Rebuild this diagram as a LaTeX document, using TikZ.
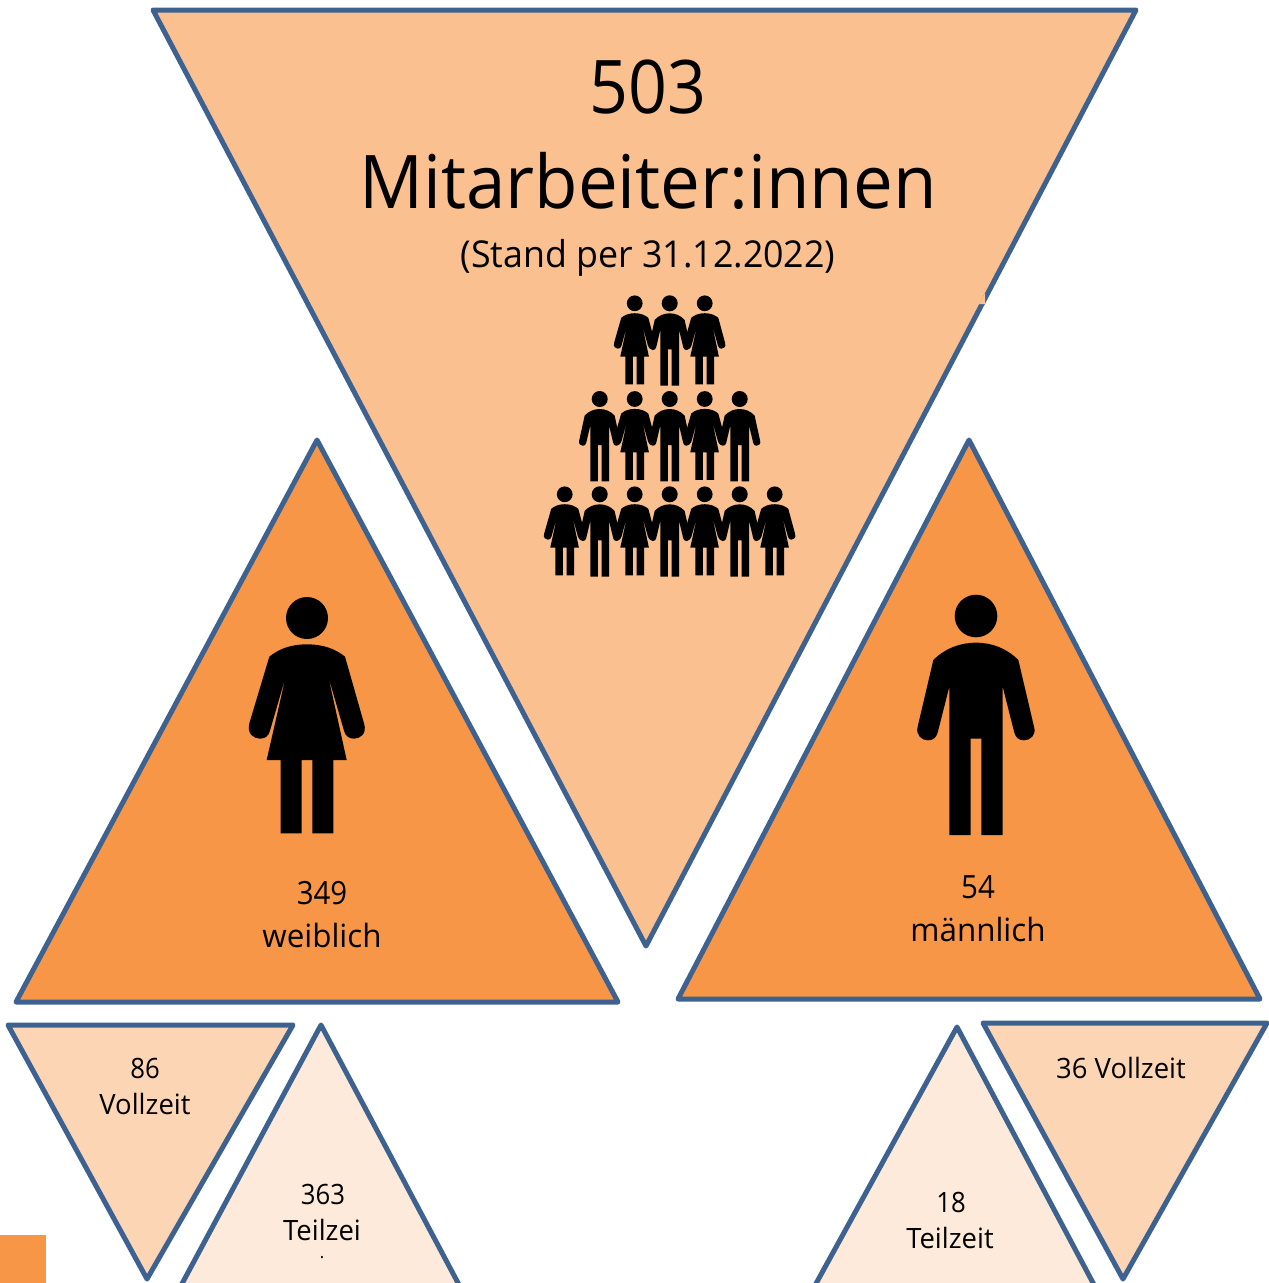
\documentclass[tikz,border=0pt]{standalone}
\usepackage{fontspec}
\setmainfont{Open Sans}[FakeStretch=0.92]
\newfontfamily\txtfont{Open Sans}[FakeStretch=0.98]
\newfontfamily\bigfont{Open Sans}[FakeStretch=0.958]
\newfontfamily\standfont{Open Sans}[FakeStretch=0.966]
\tikzset{
  x=1pt,y=-1pt,
  tri/.style={draw=edgeblue,line width=5pt,line join=round},
  lab/.style={anchor=base,inner sep=0pt,text=black},
}
\definecolor{edgeblue}{HTML}{3D6290}
\definecolor{fillA}{HTML}{FAC090}
\definecolor{fillB}{HTML}{F79646}
\definecolor{fillC}{HTML}{FCD5B5}
\definecolor{fillD}{HTML}{FDEADA}
% x, y of head centre, body x scale, y scale
\newcommand{\womanfig}[4]{%
\fill[black] (#1,#2) circle[radius=21*#4];
\begin{scope}[shift={(#1,#2)},xscale=#3/3,yscale=#4/3,shift={(-231,-114)}]
\fill[black] (231,193) .. controls (180,193) and (145,208) .. (118,230)
 -- (58,430) .. controls (50,462) and (72,476) .. (90,476) .. controls (105,476) and (116,468) .. (120,452)
 -- (167,290) -- (110,540) -- (152,540) -- (152,760) -- (215,760) -- (215,540) -- (247,540) -- (247,760) -- (310,760) -- (310,540) -- (350,540)
 -- (295,290) -- (342,452) .. controls (346,468) and (357,476) .. (372,476) .. controls (390,476) and (412,462) .. (402,430)
 -- (345,230) .. controls (318,208) and (282,193) .. (231,193) -- cycle;
\end{scope}}
\newcommand{\manfig}[4]{%
\fill[black] (#1,#2) circle[radius=21.3*#4];
\begin{scope}[shift={(#1,#2)},xscale=#3/3,yscale=#4/3,shift={(-228,-108)}]
\fill[black] (228,188) .. controls (180,188) and (135,205) .. (100,240)
 -- (53,440) .. controls (46,465) and (65,481) .. (84,481) .. controls (100,481) and (109,472) .. (113,458)
 -- (148,320) -- (148,765) -- (212,765) -- (212,476) -- (244,476) -- (244,765) -- (308,765) -- (308,320)
 -- (343,458) .. controls (347,472) and (356,481) .. (372,481) .. controls (391,481) and (410,465) .. (402,440)
 -- (355,240) .. controls (320,205) and (276,188) .. (228,188) -- cycle;
\end{scope}}
\begin{document}
\begin{tikzpicture}
\useasboundingbox (0,0) rectangle (1269,1283);
\clip (0,0) rectangle (1269,1283);
% triangles
\draw[tri,fill=fillA] (153,10) -- (1136,10) -- (646,946) -- cycle;
\fill[fillA] (985,293) -- (985,304) -- (979,304) -- cycle;
\draw[tri,fill=fillB] (317,440) -- (618,1002) -- (16,1002) -- cycle;
\draw[tri,fill=fillB] (969,440) -- (1260,999) -- (678,999) -- cycle;
\draw[tri,fill=fillC] (8,1025) -- (293,1025) -- (147,1279) -- cycle;
\draw[tri,fill=fillD] (321,1025) -- (499,1360) -- (141,1360) -- cycle;
\draw[tri,fill=fillD] (957,1027) -- (1134,1360) -- (774,1360) -- cycle;
\draw[tri,fill=fillC] (983,1023) -- (1267,1023) -- (1123,1279) -- cycle;
\fill[fillB] (0,1235) rectangle (46,1283);
% people
\womanfig{634.7}{303.3}{0.358}{0.376}
\manfig{669.7}{303.3}{0.352}{0.376}
\womanfig{704.7}{303.3}{0.358}{0.376}
\manfig{599.7}{399}{0.352}{0.376}
\womanfig{634.7}{399}{0.358}{0.376}
\manfig{669.7}{399}{0.352}{0.376}
\womanfig{704.7}{399}{0.358}{0.376}
\manfig{739.7}{399}{0.352}{0.376}
\womanfig{564.7}{494.3}{0.358}{0.376}
\manfig{599.7}{494.3}{0.352}{0.376}
\womanfig{634.7}{494.3}{0.358}{0.376}
\manfig{669.7}{494.3}{0.352}{0.376}
\womanfig{704.7}{494.3}{0.358}{0.376}
\manfig{739.7}{494.3}{0.352}{0.376}
\womanfig{774.7}{494.3}{0.358}{0.376}
\womanfig{307}{618}{1}{1}
\manfig{976}{616}{1}{1}
% labels
\node[lab,font=\fontsize{74}{74}\selectfont] (n503) at (648,113) {503};
\node[lab,font=\bigfont\fontsize{74}{74}\selectfont] (nma) at (648,208) {Mitarbeiter:innen};
\node[lab,font=\standfont\fontsize{37}{37}\selectfont] (nstand) at (648,267) {(Stand per 31.12.2022)};
\node[lab,font=\fontsize{32}{32}\selectfont] (n349) at (322,904) {349};
\node[lab,font=\txtfont\fontsize{32}{32}\selectfont] (nw) at (322,947) {weiblich};
\node[lab,font=\fontsize{32}{32}\selectfont] (n54) at (978,898) {54};
\node[lab,font=\txtfont\fontsize{32}{32}\selectfont] (nm) at (978,941) {männlich};
\node[lab,font=\fontsize{28}{28}\selectfont] (n86) at (145,1078) {86};
\node[lab,font=\txtfont\fontsize{28}{28}\selectfont] (nv) at (145,1114) {Vollzeit};
\node[lab,font=\fontsize{28}{28}\selectfont] (n363) at (323,1204) {363};
\node[lab,font=\txtfont\fontsize{28}{28}\selectfont] (nt) at (322,1240) {Teilzei};
\node[lab,font=\fontsize{18}{18}\selectfont] (ndot) at (322,1258) {.};
\node[lab,font=\txtfont\fontsize{28}{28}\selectfont] (n36) at (1121,1078) {36 Vollzeit};
\node[lab,font=\fontsize{28}{28}\selectfont] (n18) at (951,1212) {18};
\node[lab,font=\txtfont\fontsize{28}{28}\selectfont] (nt2) at (950,1248) {Teilzeit};
\end{tikzpicture}
\end{document}
